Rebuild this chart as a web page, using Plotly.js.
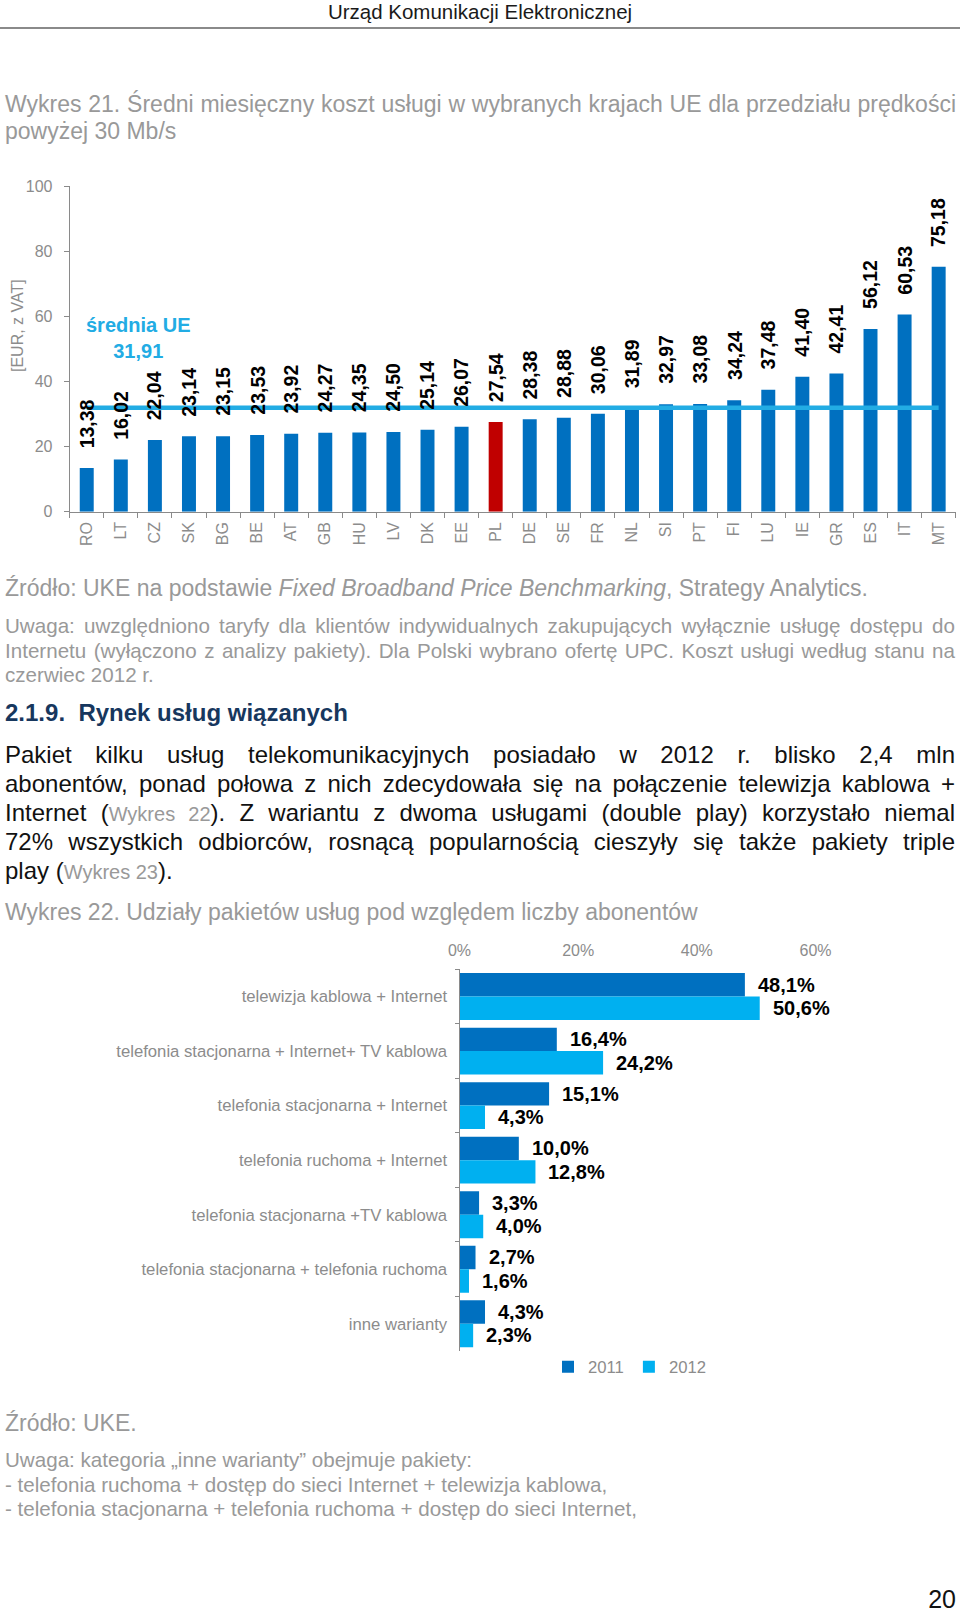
<!DOCTYPE html>
<html>
<head>
<meta charset="utf-8">
<script src="https://cdn.plot.ly/plotly-3.0.1.min.js"></script>
<style>
html,body{margin:0;padding:0;background:#fff;}
#page{position:relative;width:960px;height:1612px;overflow:hidden;font-family:"Liberation Sans",Arial,sans-serif;}
#chart{position:absolute;left:0;top:0;width:960px;height:1612px;}
.blk{position:absolute;left:5px;width:951px;z-index:2;}
.jl{text-align:justify;text-align-last:justify;}
.gray{color:#999999;}
.ref{color:#999999;font-size:20px;}
</style>
</head>
<body>
<div id="page">
<div id="chart"></div>

<div style="position:absolute;left:0;top:0;width:960px;text-align:center;font-size:20.5px;line-height:23px;color:#1a1a1a;z-index:2;">Urząd Komunikacji Elektronicznej</div>
<div style="position:absolute;left:0;top:27px;width:960px;height:2px;background:#8a8a8a;z-index:2;"></div>

<div class="blk gray" style="top:91px;font-size:23px;line-height:26.5px;">
  <div class="jl">Wykres 21. Średni miesięczny koszt usługi w wybranych krajach UE dla przedziału prędkości</div>
  <div>powyżej 30 Mb/s</div>
</div>

<div class="blk gray" style="top:575px;font-size:23px;line-height:26px;">Źródło: UKE na podstawie <i>Fixed Broadband Price Benchmarking</i>, Strategy Analytics.</div>

<div class="blk gray" style="top:614px;font-size:20.6px;line-height:24.5px;width:950px;">
  <div class="jl">Uwaga: uwzględniono taryfy dla klientów indywidualnych zakupujących wyłącznie usługę dostępu do</div>
  <div class="jl">Internetu (wyłączono z analizy pakiety). Dla Polski wybrano ofertę UPC. Koszt usługi według stanu na</div>
  <div>czerwiec 2012 r.</div>
</div>

<div class="blk" style="top:698px;font-size:24px;line-height:30px;font-weight:bold;color:#17375E;">2.1.9.&nbsp; Rynek usług wiązanych</div>

<div class="blk" style="top:741px;font-size:24px;line-height:28.8px;color:#111;width:950px;">
  <div class="jl">Pakiet kilku usług telekomunikacyjnych posiadało w 2012 r. blisko 2,4 mln</div>
  <div class="jl">abonentów, ponad połowa z nich zdecydowała się na połączenie telewizja kablowa +</div>
  <div class="jl">Internet (<span class="ref">Wykres 22</span>). Z wariantu z dwoma usługami (double play) korzystało niemal</div>
  <div class="jl">72% wszystkich odbiorców, rosnącą popularnością cieszyły się także pakiety triple</div>
  <div>play (<span class="ref">Wykres 23</span>).</div>
</div>

<div class="blk gray" style="top:898.5px;font-size:23px;line-height:26px;">Wykres 22. Udziały pakietów usług pod względem liczby abonentów</div>

<div class="blk gray" style="top:1409.5px;font-size:23px;line-height:26px;">Źródło: UKE.</div>

<div class="blk gray" style="top:1448px;font-size:20.6px;line-height:24.7px;">
  <div>Uwaga: kategoria „inne warianty” obejmuje pakiety:</div>
  <div>- telefonia ruchoma + dostęp do sieci Internet + telewizja kablowa,</div>
  <div>- telefonia stacjonarna + telefonia ruchoma + dostęp do sieci Internet,</div>
</div>

<div style="position:absolute;right:4px;top:1585px;font-size:25px;line-height:28px;color:#111;z-index:2;">20</div>
</div>

<script>
// ---- Data: Wykres 21 ----
const countries = ['RO','LT','CZ','SK','BG','BE','AT','GB','HU','LV','DK','EE','PL','DE','SE','FR','NL','SI','PT','FI','LU','IE','GR','ES','IT','MT'];
const costs = [13.38,16.02,22.04,23.14,23.15,23.53,23.92,24.27,24.35,24.50,25.14,26.07,27.54,28.38,28.88,30.06,31.89,32.97,33.08,34.24,37.48,41.40,42.41,56.12,60.53,75.18];
const euAverage = 31.91;
const highlightCountry = 'PL';
const costTicks = [0,20,40,60,80,100];

// ---- Data: Wykres 22 ----
const packages = ['telewizja kablowa + Internet','telefonia stacjonarna + Internet+ TV kablowa','telefonia stacjonarna + Internet','telefonia ruchoma + Internet','telefonia stacjonarna +TV kablowa','telefonia stacjonarna + telefonia ruchoma','inne warianty'];
const share2011 = [48.1,16.4,15.1,10.0,3.3,2.7,4.3];
const share2012 = [50.6,24.2,4.3,12.8,4.0,1.6,2.3];
const shareTicks = [0,20,40,60];
const seriesNames = ['2011','2012'];

// ---- Styles ----
const FONT = 'Liberation Sans, Arial, sans-serif';
const GRAY = '#8c8c8c';
const DARK_BLUE = '#0070C0';
const LIGHT_BLUE = '#00B0F0';
const AVG_BLUE = '#22ACE4';
const RED = '#C00000';
const H = 1612, W = 960;
const px = v => v / W;
const py = v => (H - v) / H;

const fmt = (v, d) => v.toFixed(d).replace('.', ',');

const traces = [];
traces.push({
  type: 'bar', x: countries, y: costs, xaxis: 'x', yaxis: 'y',
  width: 0.41,
  marker: {color: countries.map(c => c === highlightCountry ? RED : DARK_BLUE)},
  showlegend: false, hoverinfo: 'skip'
});
traces.push({
  type: 'scatter', mode: 'lines', xaxis: 'x', yaxis: 'y',
  x: [countries[0], countries[countries.length - 1]],
  y: [euAverage, euAverage],
  line: {color: AVG_BLUE, width: 4.5},
  showlegend: false, hoverinfo: 'skip'
});
traces.push({
  type: 'bar', orientation: 'h', x: share2011, y: packages, xaxis: 'x2', yaxis: 'y2',
  name: seriesNames[0], marker: {color: DARK_BLUE}, hoverinfo: 'skip'
});
traces.push({
  type: 'bar', orientation: 'h', x: share2012, y: packages, xaxis: 'x2', yaxis: 'y2',
  name: seriesNames[1], marker: {color: LIGHT_BLUE}, hoverinfo: 'skip'
});

const annotations = [];
// axis title chart 1
annotations.push({
  xref: 'paper', yref: 'paper', x: px(18), y: py(326), text: '[EUR, z VAT]',
  xanchor: 'center', yanchor: 'middle',
  textangle: -90, showarrow: false, font: {size: 16, color: GRAY, family: FONT}
});
// average label
annotations.push({
  xref: 'x', yref: 'y', x: 1.5, y: euAverage, yshift: 70, xanchor: 'center', yanchor: 'middle',
  text: '<b>średnia UE</b><br><b>' + fmt(euAverage, 2) + '</b>', align: 'center',
  showarrow: false, font: {size: 20, color: AVG_BLUE, family: FONT}
});
// value labels chart 1
countries.forEach((c, i) => {
  annotations.push({
    xref: 'x', yref: 'y', x: c, y: costs[i], text: '<b>' + fmt(costs[i], 2) + '</b>',
    textangle: -90, xanchor: 'center', yanchor: 'bottom', yshift: 18,
    showarrow: false, font: {size: 19.5, color: '#000', family: FONT}
  });
});
// value labels chart 2
const bargap2 = 0.14;
const off = (1 - bargap2) / 4;
packages.forEach((p, i) => {
  [[share2011, -off], [share2012, off]].forEach(([arr, o]) => {
    annotations.push({
      xref: 'x2', yref: 'y2', x: arr[i], y: i + o, text: '<b>' + fmt(arr[i], 1) + '%</b>',
      xanchor: 'left', yanchor: 'middle', xshift: 11,
      showarrow: false, font: {size: 20, color: '#000', family: FONT}
    });
  });
});

const layout = {
  width: W, height: H,
  margin: {l: 0, r: 0, t: 0, b: 0},
  paper_bgcolor: 'rgba(0,0,0,0)', plot_bgcolor: 'rgba(0,0,0,0)',
  font: {family: FONT, color: GRAY},
  barmode: 'group', bargap: bargap2, bargroupgap: 0,
  xaxis: {
    domain: [px(69.7), px(955.7)], anchor: 'y', type: 'category',
    showline: true, linecolor: '#8a8a8a', linewidth: 1,
    ticks: 'outside', tickson: 'boundaries', ticklen: 5, tickcolor: '#8a8a8a',
    tickangle: -90, tickfont: {size: 16, color: GRAY, family: FONT},
    ticklabelstandoff: 3, showgrid: false, fixedrange: true
  },
  yaxis: {
    domain: [py(511.7), py(186)], anchor: 'x', range: [0, 100],
    tickvals: costTicks, ticktext: costTicks.map(String),
    showline: true, linecolor: '#8a8a8a', linewidth: 1,
    ticks: 'outside', ticklen: 5, tickcolor: '#8a8a8a',
    tickfont: {size: 16, color: GRAY, family: FONT}, ticklabelstandoff: 8,
    showgrid: false, zeroline: false, fixedrange: true
  },
  xaxis2: {
    domain: [px(459.5), px(815.5)], anchor: 'y2', side: 'top', range: [0, 60],
    tickvals: shareTicks, ticktext: shareTicks.map(v => v + '%'),
    showline: false, ticks: '', showgrid: false, zeroline: false,
    tickfont: {size: 16, color: GRAY, family: FONT}, ticklabelstandoff: 9, fixedrange: true
  },
  yaxis2: {
    domain: [py(1351), py(969.3)], anchor: 'x2', type: 'category', autorange: 'reversed',
    showline: true, linecolor: '#8a8a8a', linewidth: 1,
    ticks: 'outside', tickson: 'boundaries', ticklen: 4, tickcolor: '#8a8a8a',
    tickfont: {size: 16.7, color: GRAY, family: FONT}, ticklabelstandoff: 8,
    showgrid: false, zeroline: false, fixedrange: true
  },
  showlegend: true,
  legend: {
    orientation: 'h', x: px(548), xanchor: 'left', y: py(1367), yanchor: 'middle',
    font: {size: 16.7, color: GRAY, family: FONT}, bgcolor: 'rgba(0,0,0,0)',
    itemwidth: 30, tracegroupgap: 0, traceorder: 'normal'
  },
  annotations: annotations
};

Plotly.newPlot('chart', traces, layout, {staticPlot: true, displayModeBar: false});
</script>
</body>
</html>
